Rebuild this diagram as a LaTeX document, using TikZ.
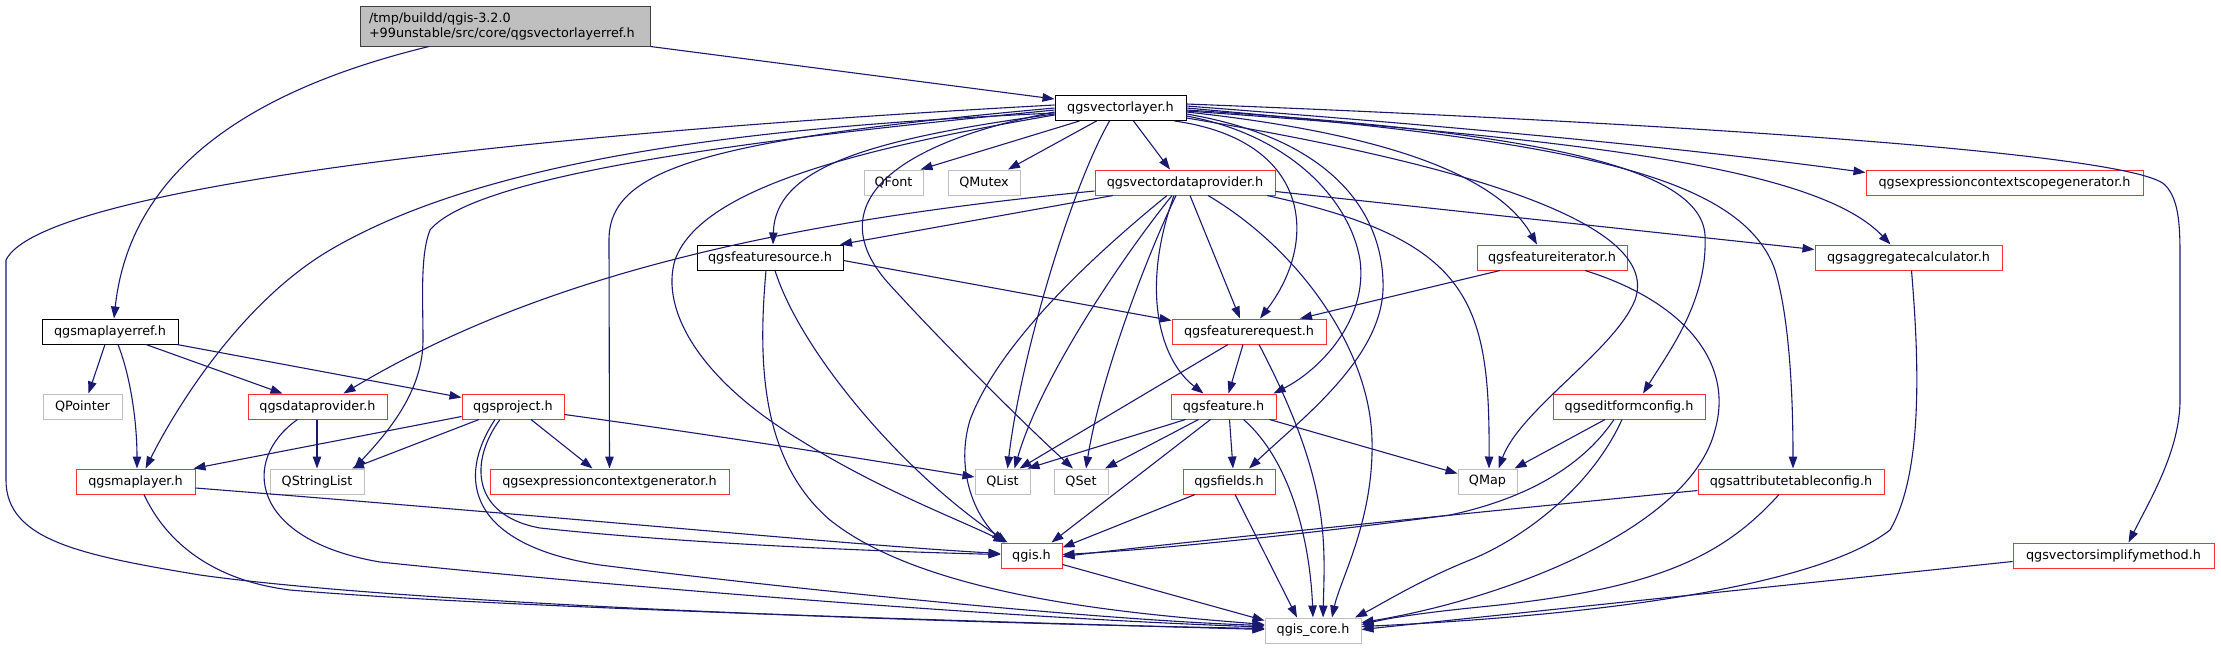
\documentclass[tikz,border=0pt]{standalone}
\usepackage{fontspec}
\setmainfont{DejaVu Sans}
\usetikzlibrary{arrows.meta}
\definecolor{edgecol}{RGB}{25,25,112}
\definecolor{redb}{RGB}{255,48,48}
\definecolor{grayb}{RGB}{191,191,191}
\definecolor{topfill}{RGB}{191,191,191}
\definecolor{topdraw}{RGB}{64,64,64}
\tikzset{
 gbox/.style={draw, rectangle, minimum height=25pt, inner sep=0pt, font=\fontsize{12.8pt}{15pt}\selectfont, line width=1pt},
 redbox/.style={gbox, draw=redb},
 graybox/.style={gbox, draw=grayb},
 blackbox/.style={gbox, draw=black},
 conn/.style={draw=edgecol, line width=1.1pt, -{Triangle[length=12pt,width=8.5pt]}},
}
\begin{document}
\begin{tikzpicture}[x=1pt,y=-1pt]
\useasboundingbox (0,0) rectangle (2221,649);
% nodes
\node[gbox, fill=topfill, draw=topdraw, minimum height=40pt, text width=272pt, inner xsep=9pt, align=left] (top) at (505,26) {/tmp/buildd/qgis-3.2.0\\+99unstable/src/core/qgsvectorlayerref.h};
\node[blackbox, minimum width=131pt] (vl) at (1120.5,108) {qgsvectorlayer.h};
\node[graybox, minimum width=59pt] (qfont) at (893.5,182.5) {QFont};
\node[graybox, minimum width=72pt] (qmutex) at (984,182.5) {QMutex};
\node[redbox, minimum width=180pt] (vdp) at (1185,182.5) {qgsvectordataprovider.h};
\node[redbox, minimum width=277pt] (ecsg) at (2004.5,182.5) {qgsexpressioncontextscopegenerator.h};
\node[blackbox, minimum width=146pt] (fsrc) at (770,257.5) {qgsfeaturesource.h};
\node[redbox, minimum width=150pt] (fit) at (1552,257.5) {qgsfeatureiterator.h};
\node[redbox, minimum width=187pt] (agg) at (1908.5,257.5) {qgsaggregatecalculator.h};
\node[blackbox, minimum width=136pt] (mlref) at (110,331.5) {qgsmaplayerref.h};
\node[redbox, minimum width=154pt] (freq) at (1249,331.5) {qgsfeaturerequest.h};
\node[graybox, minimum width=79pt] (qptr) at (82.5,406.5) {QPointer};
\node[redbox, minimum width=139pt] (dp) at (317.5,406.5) {qgsdataprovider.h};
\node[redbox, minimum width=102pt] (proj) at (513,406.5) {qgsproject.h};
\node[redbox, minimum width=105pt] (feat) at (1223.5,406.5) {qgsfeature.h};
\node[redbox, minimum width=152pt] (efc) at (1629,406.5) {qgseditformconfig.h};
\node[redbox, minimum width=119pt] (ml) at (135.5,481.5) {qgsmaplayer.h};
\node[graybox, minimum width=94pt] (qsl) at (317,481.5) {QStringList};
\node[redbox, minimum width=239pt] (ecg) at (609.5,481.5) {qgsexpressioncontextgenerator.h};
\node[graybox, minimum width=55pt] (qlist) at (1002.5,481.5) {QList};
\node[graybox, minimum width=54pt] (qset) at (1081,481.5) {QSet};
\node[redbox, minimum width=92pt] (fields) at (1229,481.5) {qgsfields.h};
\node[graybox, minimum width=59pt] (qmap) at (1487.5,481.5) {QMap};
\node[redbox, minimum width=186pt] (atc) at (1791,481.5) {qgsattributetableconfig.h};
\node[redbox, minimum width=61pt] (qgis) at (1031.5,555.5) {qgis.h};
\node[redbox, minimum width=201pt] (vsm) at (2113.5,555.5) {qgsvectorsimplifymethod.h};
\node[graybox, minimum width=96pt] (core) at (1313,630.5) {qgis\_core.h};
% top
\draw[conn] ([xshift=-76pt]top.south) .. controls (250,90) and (130,170) .. ([xshift=4pt]mlref.north);
\draw[conn] (top.south east) -- ([yshift=9pt]vl.west);
% mlref
\draw[conn] ([xshift=-5pt]mlref.south) -- ([xshift=6pt]qptr.north);
\draw[conn] ([xshift=8pt]mlref.south) .. controls (130,375) and (137,420) .. ([xshift=1.5pt]ml.north);
\draw[conn] ([xshift=36pt]mlref.south) -- ([xshift=-35pt]dp.north);
\draw[conn] ([xshift=67pt]mlref.south) -- ([yshift=9pt]proj.west);
% vl
\draw[conn] ([yshift=3pt]vl.west) .. controls (500,135) and (40,190) .. (6,260) -- (6,480) .. controls (6,540) and (80,555) .. (200,575) .. controls (400,603) and (900,622) .. ([yshift=2pt]core.west);
\draw[conn] ([yshift=-5pt]vl.west) .. controls (800,125) and (500,150) .. (330,250) .. controls (245,300) and (180,400) .. ([xshift=10pt]ml.north);
\draw[conn] ([yshift=-2pt]vl.west) .. controls (800,135) and (480,170) .. (430,230) .. controls (420,255) and (423,300) .. (423,340) .. controls (423,390) and (390,430) .. ([xshift=37pt]qsl.north);
\draw[conn] (vl.west) .. controls (700,140) and (609,170) .. (609,240) -- (ecg.north);
\draw[conn] ([yshift=-7pt]vl.west) .. controls (850,150) and (700,190) .. (675,260) .. controls (660,310) and (700,380) .. (800,440) .. controls (880,490) and (960,520) .. ([xshift=-26pt]qgis.north);
\draw[conn] ([yshift=-6pt]vl.west) .. controls (860,140) and (775,170) .. ([xshift=3pt]fsrc.north);
\draw[conn] ([yshift=-4pt]vl.west) .. controls (860,150) and (830,220) .. (890,285) .. controls (940,340) and (1020,420) .. ([xshift=-8pt]qset.north);
\draw[conn] ([xshift=-41pt]vl.south) -- ([xshift=27pt]qfont.north);
\draw[conn] ([xshift=-24pt]vl.south) -- ([xshift=24pt]qmutex.north);
\draw[conn] ([xshift=-11pt]vl.south) .. controls (1070,190) and (1020,360) .. ([xshift=5pt]qlist.north);
\draw[conn] ([xshift=13pt]vl.south) -- ([xshift=-15pt]vdp.north);
\draw[conn] ([xshift=54pt]vl.south) .. controls (1310,140) and (1320,240) .. ([xshift=11pt]freq.north);
\draw[conn] ([yshift=-8pt]vl.east) .. controls (1290,135) and (1350,200) .. (1360,260) .. controls (1368,320) and (1320,370) .. ([xshift=50pt]feat.north);
\draw[conn] ([yshift=-6pt]vl.east) .. controls (1340,140) and (1385,220) .. (1383,290) .. controls (1380,360) and (1300,420) .. ([xshift=20pt]fields.north);
\draw[conn] ([yshift=-4pt]vl.east) .. controls (1400,135) and (1500,180) .. ([xshift=-15pt]fit.north);
\draw[conn] ([yshift=-10pt]vl.east) .. controls (1500,170) and (1660,230) .. (1635,300) .. controls (1615,350) and (1520,410) .. ([xshift=11pt]qmap.north);
\draw[conn] ([yshift=-2pt]vl.east) .. controls (1500,130) and (1700,160) .. (1705,235) .. controls (1708,300) and (1670,350) .. ([xshift=14pt]efc.north);
\draw[conn] (vl.east) .. controls (1550,140) and (1740,170) .. (1775,270) .. controls (1790,320) and (1793,400) .. ([xshift=2pt]atc.north);
\draw[conn] ([yshift=-3pt]vl.east) .. controls (1600,140) and (1820,170) .. ([xshift=-18pt]agg.north);
\draw[conn] ([yshift=2pt]vl.east) .. controls (1500,130) and (1700,150) .. ([yshift=10pt]ecsg.west);
\draw[conn] ([yshift=4pt]vl.east) .. controls (1600,120) and (2130,150) .. (2165,185) .. controls (2180,200) and (2180,230) .. (2180,260) -- (2180,400) .. controls (2180,450) and (2150,500) .. ([xshift=15pt]vsm.north);
% vdp
\draw[conn] ([yshift=-8.5pt]vdp.west) .. controls (800,220) and (550,270) .. ([xshift=26pt]dp.north);
\draw[conn] ([xshift=-72pt]vdp.south) -- ([xshift=70pt]fsrc.north);
\draw[conn] ([xshift=-18pt]vdp.south) .. controls (1100,250) and (1000,340) .. (970,420) .. controls (955,470) and (975,515) .. ([xshift=-28pt]qgis.north);
\draw[conn] ([xshift=-13pt]vdp.south) .. controls (1120,260) and (1040,380) .. ([xshift=12pt]qlist.north);
\draw[conn] ([xshift=-9pt]vdp.south) .. controls (1145,260) and (1100,380) .. ([xshift=5pt]qset.north);
\draw[conn] ([xshift=-11pt]vdp.south) .. controls (1140,290) and (1160,360) .. ([xshift=-20pt]feat.north);
\draw[conn] ([xshift=5pt]vdp.south) -- ([xshift=-9pt]freq.north);
\draw[conn] ([xshift=23pt]vdp.south) .. controls (1300,250) and (1370,350) .. (1372,440) .. controls (1374,520) and (1340,580) .. ([xshift=19pt]core.north);
\draw[conn] ([xshift=82pt]vdp.south) .. controls (1470,240) and (1490,300) .. ([xshift=1.5pt]qmap.north);
\draw[conn] ([yshift=-9pt]vdp.east) -- ([yshift=8pt]agg.west);
% fsrc
\draw[conn] ([yshift=-3pt]fsrc.east) -- ([yshift=11pt]freq.west);
\draw[conn] ([xshift=-4pt]fsrc.south) .. controls (758,360) and (760,460) .. (830,520) .. controls (930,600) and (1150,615) .. ([yshift=6pt]core.west);
\draw[conn] ([xshift=5pt]fsrc.south) .. controls (800,350) and (900,470) .. ([xshift=-24pt]qgis.north);
% ml
\draw[conn] ([yshift=-6.5pt]ml.east) .. controls (600,520) and (850,545) .. ([yshift=2pt]qgis.west);
\draw[conn] ([xshift=8.5pt]ml.south) .. controls (165,540) and (210,580) .. (290,590) .. controls (500,608) and (1000,622) .. ([yshift=1pt]core.west);
% dp
\draw[conn] ([xshift=-0.5pt]dp.south) -- (qsl.north);
\draw[conn] ([xshift=-20pt]dp.south) .. controls (240,460) and (250,540) .. (380,562) .. controls (600,585) and (1000,618) .. ([yshift=3.5pt]core.west);
% proj
\draw[conn] ([yshift=-10pt]proj.west) -- ([xshift=58pt]ml.north);
\draw[conn] ([xshift=-34pt]proj.south) -- ([xshift=35pt]qsl.north);
\draw[conn] ([xshift=18pt]proj.south) -- ([xshift=-17pt]ecg.north);
\draw[conn] ([yshift=-8pt]proj.east) .. controls (750,440) and (900,465) .. ([yshift=4.5pt]qlist.west);
\draw[conn] ([xshift=-13pt]proj.south) .. controls (470,460) and (470,515) .. (540,528) .. controls (700,545) and (900,552) .. ([yshift=1pt]qgis.west);
\draw[conn] ([xshift=-18pt]proj.south) .. controls (455,480) and (470,545) .. (600,565) .. controls (800,590) and (1100,620) .. ([yshift=5pt]core.west);
% freq
\draw[conn] ([xshift=-21pt]freq.south) -- ([xshift=17pt]qlist.north);
\draw[conn] ([xshift=-6pt]freq.south) -- ([xshift=5pt]feat.north);
\draw[conn] ([xshift=10pt]freq.south) .. controls (1330,480) and (1325,540) .. ([xshift=10pt]core.north);
% fit
\draw[conn] ([xshift=-52pt]fit.south) -- ([xshift=51pt]freq.north);
\draw[conn] ([xshift=33pt]fit.south) .. controls (1680,300) and (1735,360) .. (1715,430) .. controls (1690,530) and (1500,600) .. ([yshift=8pt]core.east);
% agg
\draw[conn] ([xshift=3pt]agg.south) .. controls (1918,350) and (1925,470) .. (1890,530) .. controls (1800,600) and (1500,620) .. ([yshift=4pt]core.east);
% feat
\draw[conn] ([xshift=-38pt]feat.south) -- ([xshift=25pt]qlist.north);
\draw[conn] ([xshift=-25pt]feat.south) -- ([xshift=24pt]qset.north);
\draw[conn] ([xshift=-13pt]feat.south) -- ([xshift=20pt]qgis.north);
\draw[conn] ([xshift=6pt]feat.south) -- ([xshift=4pt]fields.north);
\draw[conn] ([xshift=20pt]feat.south) .. controls (1290,460) and (1310,540) .. (core.north);
\draw[conn] ([xshift=46pt]feat.south) -- ([yshift=8pt]qmap.west);
% fields
\draw[conn] ([xshift=-34pt]fields.south) -- ([yshift=8pt]qgis.east);
\draw[conn] ([xshift=6pt]fields.south) -- ([xshift=-16pt]core.north);
% efc
\draw[conn] ([xshift=-24pt]efc.south) -- ([xshift=27pt]qmap.north);
\draw[conn] ([xshift=-15pt]efc.south) .. controls (1580,470) and (1520,500) .. (1450,515) .. controls (1300,535) and (1150,550) .. ([yshift=1pt]qgis.east);
\draw[conn] ([xshift=-7pt]efc.south) .. controls (1590,490) and (1520,540) .. (1470,560) .. controls (1420,580) and (1380,605) .. ([xshift=42pt]core.north);
% atc
\draw[conn] ([yshift=-9pt]atc.west) .. controls (1500,510) and (1200,540) .. ([yshift=-1pt]qgis.east);
\draw[conn] ([xshift=-12pt]atc.south) .. controls (1720,560) and (1650,590) .. (1480,607) .. controls (1420,613) and (1390,618) .. ([yshift=6pt]core.east);
% vsm
\draw[conn] ([yshift=-6pt]vsm.west) -- ([yshift=1pt]core.east);
% qgis
\draw[conn] ([yshift=-9pt]qgis.east) -- ([yshift=10pt]core.west);
\end{tikzpicture}
\end{document}
